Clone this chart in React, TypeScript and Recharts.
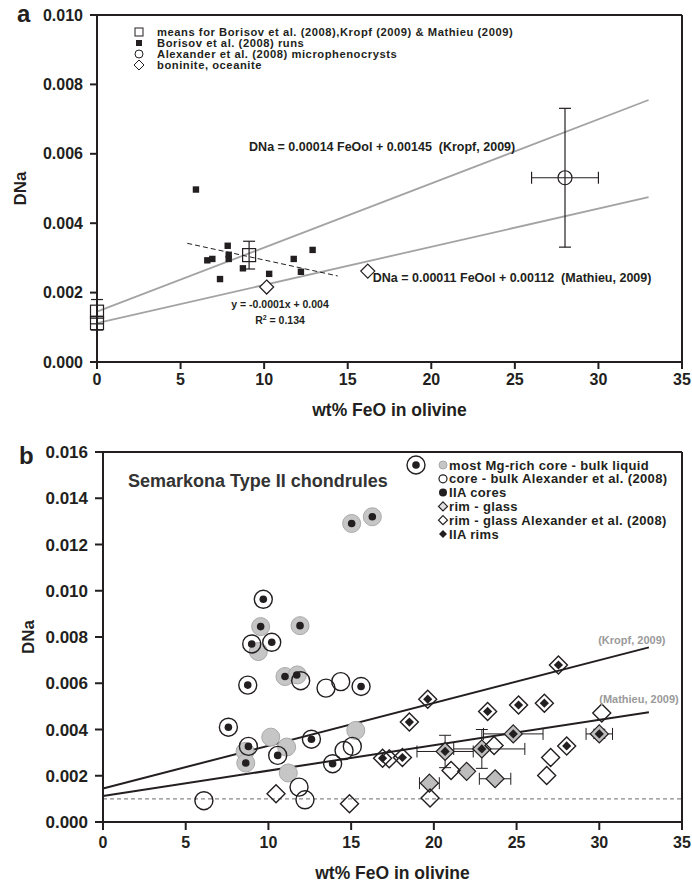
import React from 'react';
import {
  ScatterChart,
  Scatter,
  XAxis,
  YAxis,
  ReferenceLine,
  ReferenceDot,
  ErrorBar,
} from 'recharts';

// ---------- shared ticks ----------
const xTicks = [0, 5, 10, 15, 20, 25, 30, 35];
const yTicksA = [0, 0.002, 0.004, 0.006, 0.008, 0.01];
const yTicksB = [0, 0.002, 0.004, 0.006, 0.008, 0.01, 0.012, 0.014, 0.016];

// ---------- panel a data ----------
const meansA = [
  { x: 0, y: 0.00145, ey: 0.00035 },
  { x: 0, y: 0.00112, ey: 0.0002 },
  { x: 9.1, y: 0.00308, ey: 0.0004 },
];
const borisovRuns = [
  { x: 5.92, y: 0.00497 },
  { x: 6.6, y: 0.00293 },
  { x: 6.9, y: 0.00297 },
  { x: 7.36, y: 0.00239 },
  { x: 7.82, y: 0.00335 },
  { x: 7.88, y: 0.00309 },
  { x: 7.88, y: 0.00297 },
  { x: 8.73, y: 0.0027 },
  { x: 10.3, y: 0.00254 },
  { x: 11.77, y: 0.00297 },
  { x: 12.2, y: 0.0026 },
  { x: 12.9, y: 0.00323 },
];
const alexanderA = [{ x: 28, y: 0.00531, ex: 2, ey: 0.002 }];
const boniniteA = [
  { x: 10.15, y: 0.00216 },
  { x: 16.2, y: 0.00262 },
];
const kropfLine = [
  { x: 0, y: 0.00145 },
  { x: 33, y: 0.00755 },
];
const mathieuLine = [
  { x: 0, y: 0.00112 },
  { x: 33, y: 0.00475 },
];
const borisovFit = [
  { x: 5.4, y: 0.00342 },
  { x: 14.4, y: 0.00248 },
];

// ---------- panel b data ----------
const mgRichBulk = [
  { x: 15.03, y: 0.01291 },
  { x: 16.28, y: 0.0132 },
  { x: 9.53, y: 0.00845 },
  { x: 11.91, y: 0.00849 },
  { x: 9.39, y: 0.00737 },
  { x: 11.0, y: 0.00629 },
  { x: 11.75, y: 0.00636 },
  { x: 10.14, y: 0.00367 },
  { x: 8.59, y: 0.00305 },
  { x: 8.63, y: 0.00255 },
  { x: 11.1, y: 0.00324 },
  { x: 11.2, y: 0.00212 },
  { x: 15.28, y: 0.00396 },
];
const coreBulkAlexander = [
  { x: 9.69, y: 0.00963 },
  { x: 8.99, y: 0.0077 },
  { x: 10.2, y: 0.00777 },
  { x: 11.95, y: 0.00611 },
  { x: 8.75, y: 0.00592 },
  { x: 13.48, y: 0.00579 },
  { x: 14.37, y: 0.00607 },
  { x: 15.6, y: 0.00586 },
  { x: 7.58, y: 0.0041 },
  { x: 8.79, y: 0.00327 },
  { x: 10.56, y: 0.00288 },
  { x: 12.6, y: 0.00358 },
  { x: 15.07, y: 0.00327 },
  { x: 14.57, y: 0.00309 },
  { x: 13.88, y: 0.00252 },
  { x: 11.85, y: 0.00151 },
  { x: 12.21, y: 0.00096 },
  { x: 6.1, y: 0.00092 },
];
const iiaCores = [
  { x: 15.03, y: 0.01291 },
  { x: 16.28, y: 0.0132 },
  { x: 9.69, y: 0.00963 },
  { x: 9.53, y: 0.00845 },
  { x: 11.91, y: 0.00849 },
  { x: 8.99, y: 0.0077 },
  { x: 10.2, y: 0.00777 },
  { x: 11.0, y: 0.00629 },
  { x: 11.71, y: 0.00636 },
  { x: 8.75, y: 0.00592 },
  { x: 15.6, y: 0.00586 },
  { x: 7.58, y: 0.0041 },
  { x: 8.79, y: 0.00327 },
  { x: 8.63, y: 0.00255 },
  { x: 10.56, y: 0.00288 },
  { x: 12.6, y: 0.00358 },
  { x: 13.88, y: 0.00252 },
];
const rimGlass = [{ x: 21.98, y: 0.00219 }];
const rimGlassErr = [
  { x: 24.8, y: 0.00381, ex: 1.8, ey: 0 },
  { x: 30.0, y: 0.00381, ex: 0.8, ey: 0.0002 },
  { x: 20.68, y: 0.00305, ex: 1.7, ey: 0.0007 },
  { x: 22.9, y: 0.00316, ex: [1.7, 2.6], ey: 0.00084 },
  { x: 23.7, y: 0.00187, ex: 0.95, ey: 0 },
  { x: 19.73, y: 0.00168, ex: 0.6, ey: 0 },
];
const rimGlassAlexander = [
  { x: 27.53, y: 0.00679 },
  { x: 19.63, y: 0.00531 },
  { x: 18.52, y: 0.00432 },
  { x: 23.25, y: 0.00478 },
  { x: 25.12, y: 0.00506 },
  { x: 26.68, y: 0.00514 },
  { x: 30.15, y: 0.00471 },
  { x: 23.64, y: 0.00331 },
  { x: 16.9, y: 0.00276 },
  { x: 17.3, y: 0.00273 },
  { x: 18.1, y: 0.00279 },
  { x: 28.03, y: 0.00329 },
  { x: 27.06, y: 0.00279 },
  { x: 26.82, y: 0.00201 },
  { x: 21.04, y: 0.00223 },
  { x: 19.77, y: 0.00104 },
  { x: 14.9, y: 0.00079 },
  { x: 10.46, y: 0.00122 },
];
const iiaRims = [
  { x: 27.53, y: 0.00679 },
  { x: 19.63, y: 0.00531 },
  { x: 18.52, y: 0.00432 },
  { x: 23.25, y: 0.00478 },
  { x: 25.12, y: 0.00506 },
  { x: 26.68, y: 0.00514 },
  { x: 16.9, y: 0.00276 },
  { x: 18.1, y: 0.00279 },
  { x: 28.03, y: 0.00329 },
  { x: 24.8, y: 0.00381 },
  { x: 30.0, y: 0.00381 },
  { x: 20.68, y: 0.00305 },
  { x: 22.9, y: 0.00316 },
];
const naFloor = 0.001;

// ---------- styles ----------
const INK = '#231f20';
const FONT = '"Liberation Sans", Arial, sans-serif';
const axisStyle = { stroke: INK, strokeWidth: 2 };
const tickStyle = { fill: INK, fontSize: 16, fontWeight: 'bold' };
const fmt = (v: number) => v.toFixed(3);

const dPath = (cx: number, cy: number, h: number) =>
  `M${cx},${cy - h} L${cx + h},${cy} L${cx},${cy + h} L${cx - h},${cy} Z`;

// marker shapes
const openSquare = (p: any) => (
  <rect x={p.cx - 6.5} y={p.cy - 6.5} width={13} height={13} fill="none" stroke={INK} strokeWidth={1.2} />
);
const fillSquare = (p: any) => (
  <rect x={p.cx - 3.2} y={p.cy - 3.2} width={6.4} height={6.4} fill={INK} />
);
const openCircleA = (p: any) => <circle cx={p.cx} cy={p.cy} r={7} fill="none" stroke={INK} strokeWidth={1.2} />;
const openDiamondA = (p: any) => <path d={dPath(p.cx, p.cy, 7)} fill="#fff" stroke={INK} strokeWidth={1.2} />;

const grayCircle = (p: any) => <circle cx={p.cx} cy={p.cy} r={9} fill="#c6c6c6" stroke="#a9a9a9" strokeWidth={1} />;
const openCircle = (p: any) => <circle cx={p.cx} cy={p.cy} r={9} fill="none" stroke={INK} strokeWidth={1.4} />;
const blackDot = (p: any) => <circle cx={p.cx} cy={p.cy} r={3.8} fill={INK} />;
const grayDiamond = (p: any) => <path d={dPath(p.cx, p.cy, 9)} fill="#bdbdbd" stroke={INK} strokeWidth={1.2} />;
const openDiamond = (p: any) => <path d={dPath(p.cx, p.cy, 9)} fill="none" stroke={INK} strokeWidth={1.4} />;
const blackDiamond = (p: any) => <path d={dPath(p.cx, p.cy, 4.6)} fill={INK} />;

const textAt = (txt: React.ReactNode, opts: any) => (p: any) => (
  <text x={p.cx} y={p.cy} dy={opts.dy ?? 4} textAnchor={opts.anchor ?? 'start'} fontSize={opts.size}
    fontWeight="bold" fill={opts.color ?? INK} style={{ whiteSpace: 'pre' }}>
    {txt}
  </text>
);

const yTitle = (dx: number) => (p: any) => {
  const vb = p.viewBox;
  const cy = vb.y + vb.height / 2;
  return (
    <text x={vb.x + dx} y={cy} transform={`rotate(-90 ${vb.x + dx} ${cy})`} textAnchor="middle" dy={6}
      fontSize={17} fontWeight="bold" fill={INK}>
      DNa
    </text>
  );
};

function PanelA() {
  return (
    <ScatterChart width={692} height={423} margin={{ top: 15, right: 10, bottom: 5, left: 0 }}>
      <XAxis type="number" dataKey="x" domain={[0, 35]} ticks={xTicks} interval={0} height={56}
        tickSize={7} tickMargin={5} axisLine={axisStyle} tickLine={axisStyle} tick={tickStyle}
        label={{ value: 'wt% FeO in olivine', position: 'insideBottom', offset: 2, fill: INK, fontSize: 17.5, fontWeight: 'bold' }} />
      <YAxis type="number" dataKey="y" domain={[0, 0.01]} ticks={yTicksA} interval={0} width={97}
        tickFormatter={fmt} tickSize={7} tickMargin={7} axisLine={axisStyle} tickLine={axisStyle} tick={tickStyle}
        label={yTitle(20)} />
      <ReferenceLine y={0.01} stroke={INK} strokeWidth={2} />
      <ReferenceLine x={35} stroke={INK} strokeWidth={2} />
      <ReferenceLine segment={kropfLine} stroke="#a3a3a3" strokeWidth={1.8} />
      <ReferenceLine segment={mathieuLine} stroke="#a3a3a3" strokeWidth={1.8} />
      <ReferenceLine segment={borisovFit} stroke={INK} strokeWidth={1} strokeDasharray="5 3" />
      <Scatter data={borisovRuns} shape={fillSquare} isAnimationActive={false} />
      <Scatter data={meansA} shape={openSquare} isAnimationActive={false}>
        <ErrorBar dataKey="ey" direction="y" width={6} stroke={INK} strokeWidth={1.2} />
      </Scatter>
      <Scatter data={alexanderA} shape={openCircleA} isAnimationActive={false}>
        <ErrorBar dataKey="ey" direction="y" width={6} stroke={INK} strokeWidth={1.2} />
        <ErrorBar dataKey="ex" direction="x" width={6} stroke={INK} strokeWidth={1.2} />
      </Scatter>
      <Scatter data={boniniteA} shape={openDiamondA} isAnimationActive={false} />
      <ReferenceDot x={9.1} y={0.00619} r={0}
        shape={textAt('DNa = 0.00014 FeOol + 0.00145  (Kropf, 2009)', { size: 12.5 })} />
      <ReferenceDot x={16.5} y={0.00241} r={0}
        shape={textAt('DNa = 0.00011 FeOol + 0.00112  (Mathieu, 2009)', { size: 12.5 })} />
      <ReferenceDot x={10.95} y={0.00166} r={0}
        shape={textAt('y = -0.0001x + 0.004', { size: 10.5, anchor: 'middle' })} />
      <ReferenceDot x={10.95} y={0.0012} r={0}
        shape={textAt(<>R<tspan dy={-4} fontSize={7}>2</tspan><tspan dy={4}> = 0.134</tspan></>, { size: 10.5, anchor: 'middle' })} />
    </ScatterChart>
  );
}

function PanelB() {
  return (
    <ScatterChart width={692} height={443} margin={{ top: 12, right: 10, bottom: 3, left: 0 }}>
      <XAxis type="number" dataKey="x" domain={[0, 35]} ticks={xTicks} interval={0} height={58}
        tickSize={8} tickMargin={7} axisLine={axisStyle} tickLine={axisStyle} tick={tickStyle}
        label={{ value: 'wt% FeO in olivine', position: 'insideBottom', offset: 1, fill: INK, fontSize: 17.5, fontWeight: 'bold' }} />
      <YAxis type="number" dataKey="y" domain={[0, 0.016]} ticks={yTicksB} interval={0} width={103}
        tickFormatter={fmt} tickSize={8} tickMargin={7} axisLine={axisStyle} tickLine={axisStyle}
        tick={{ ...tickStyle, fontSize: 17 }} label={yTitle(28)} />
      <ReferenceLine y={0.016} stroke={INK} strokeWidth={2} />
      <ReferenceLine x={35} stroke={INK} strokeWidth={2} />
      <ReferenceLine y={naFloor} stroke="#8a8a8a" strokeWidth={1.2} strokeDasharray="4 3" />
      <ReferenceLine segment={kropfLine} stroke={INK} strokeWidth={2} />
      <ReferenceLine segment={mathieuLine} stroke={INK} strokeWidth={2} />
      <Scatter data={mgRichBulk} shape={grayCircle} isAnimationActive={false} />
      <Scatter data={coreBulkAlexander} shape={openCircle} isAnimationActive={false} />
      <Scatter data={iiaCores} shape={blackDot} isAnimationActive={false} />
      <Scatter data={rimGlassErr} shape={grayDiamond} isAnimationActive={false}>
        <ErrorBar dataKey="ex" direction="x" width={6} stroke={INK} strokeWidth={1} />
        <ErrorBar dataKey="ey" direction="y" width={6} stroke={INK} strokeWidth={1} />
      </Scatter>
      <Scatter data={rimGlass} shape={grayDiamond} isAnimationActive={false} />
      <Scatter data={rimGlassAlexander} shape={openDiamond} isAnimationActive={false} />
      <Scatter data={iiaRims} shape={blackDiamond} isAnimationActive={false} />
      <ReferenceDot x={1.51} y={0.01475} r={0}
        shape={textAt('Semarkona Type II chondrules', { size: 18, dy: 6, color: '#333' })} />
      <ReferenceDot x={34.0} y={0.00787} r={0}
        shape={textAt('(Kropf, 2009)', { size: 11, anchor: 'end', color: '#9a9a9a' })} />
      <ReferenceDot x={34.8} y={0.00532} r={0}
        shape={textAt('(Mathieu, 2009)', { size: 11, anchor: 'end', color: '#9a9a9a' })} />
    </ScatterChart>
  );
}

const legendA = ['means for Borisov et al. (2008),Kropf (2009) & Mathieu (2009)', 'Borisov et al. (2008) runs',
  'Alexander et al. (2008) microphenocrysts', 'boninite, oceanite'];
const legendB = ['most Mg-rich core - bulk liquid', 'core - bulk Alexander et al. (2008)', 'IIA cores',
  'rim - glass', 'rim - glass Alexander et al. (2008)', 'IIA rims'];

function LegendA() {
  const rows = [32, 43, 54, 65];
  const sx = 139;
  return (
    <svg width={692} height={100} style={{ position: 'absolute', left: 0, top: 0, pointerEvents: 'none' }}>
      <rect x={sx - 4} y={rows[0] - 4} width={8} height={8} fill="none" stroke={INK} strokeWidth={1} />
      <rect x={sx - 3} y={rows[1] - 3} width={6} height={6} fill={INK} />
      <circle cx={sx} cy={rows[2]} r={4} fill="none" stroke={INK} strokeWidth={1} />
      <path d={dPath(sx, rows[3], 5)} fill="none" stroke={INK} strokeWidth={1} />
      {legendA.map((t, i) => (
        <text key={t} x={157} y={rows[i] + 4} fontSize={11.2} letterSpacing={0.55} fontWeight="bold" fill={INK}>{t}</text>
      ))}
    </svg>
  );
}

function LegendB() {
  const rows = [25, 38.8, 52.6, 66.4, 80.2, 94];
  const sx = 443;
  return (
    <svg width={692} height={120} style={{ position: 'absolute', left: 0, top: 440, pointerEvents: 'none' }}>
      <circle cx={416} cy={25} r={9} fill="none" stroke={INK} strokeWidth={1.4} />
      <circle cx={416} cy={25} r={3.8} fill={INK} />
      <circle cx={sx} cy={rows[0]} r={4} fill="#c6c6c6" stroke="#a9a9a9" />
      <circle cx={sx} cy={rows[1]} r={4} fill="none" stroke={INK} strokeWidth={1.2} />
      <circle cx={sx} cy={rows[2]} r={4} fill={INK} />
      <path d={dPath(sx, rows[3], 4.5)} fill="#e0e0e0" stroke={INK} strokeWidth={1.2} />
      <path d={dPath(sx, rows[4], 4.5)} fill="none" stroke={INK} strokeWidth={1.2} />
      <path d={dPath(sx, rows[5], 4)} fill={INK} />
      {legendB.map((t, i) => (
        <text key={t} x={449} y={rows[i] + 4.5} fontSize={13} letterSpacing={0.35} fontWeight="bold" fill={INK}>{t}</text>
      ))}
    </svg>
  );
}

export default function App() {
  return (
    <div style={{ position: 'absolute', left: 0, top: 0, width: 692, height: 883, background: '#fff', fontFamily: FONT }}>
      <div style={{ position: 'absolute', left: 0, top: 0 }}>
        <PanelA />
      </div>
      <div style={{ position: 'absolute', left: 0, top: 440 }}>
        <PanelB />
      </div>
      <LegendA />
      <LegendB />
      <div style={{ position: 'absolute', left: 17, top: 0, fontSize: 24, fontWeight: 'bold', color: INK, lineHeight: '28px' }}>a</div>
      <div style={{ position: 'absolute', left: 19, top: 442, fontSize: 24, fontWeight: 'bold', color: INK, lineHeight: '28px' }}>b</div>
    </div>
  );
}
